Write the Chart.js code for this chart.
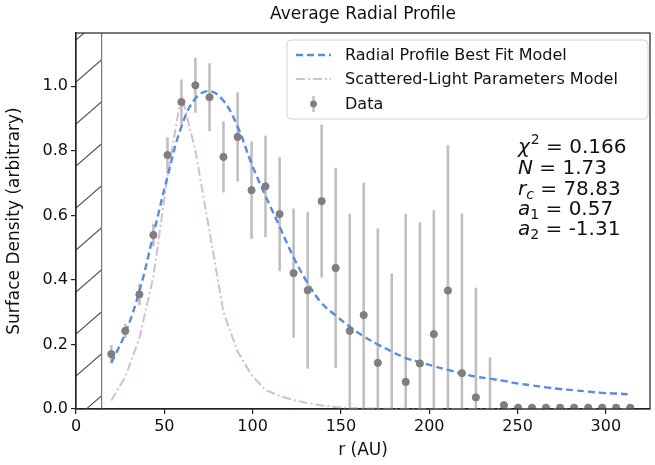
<!DOCTYPE html>
<html>
<head>
<meta charset="utf-8">
<script src="https://cdn.jsdelivr.net/npm/chart.js@4/dist/chart.umd.min.js"></script>
<style>
  html, body { margin: 0; padding: 0; background: #fff; }
  #wrap { width: 655px; height: 465px; }
</style>
</head>
<body>
<div id="wrap"><canvas id="chart" width="655" height="465"></canvas></div>
<script>
// radius grid (AU)
const rValues = [20.0, 27.9, 35.9, 43.8, 51.8, 59.7, 67.6, 75.6, 83.5, 91.5,
  99.4, 107.3, 115.3, 123.2, 131.2, 139.1, 147.0, 155.0, 162.9, 170.9,
  178.8, 186.7, 194.7, 202.6, 210.6, 218.5, 226.4, 234.4, 242.3, 250.3,
  258.2, 266.1, 274.1, 282.0, 290.0, 297.9, 305.8, 313.8];

// measured surface density + 1-sigma errors
const density = [0.170, 0.242, 0.355, 0.539, 0.787, 0.951, 1.003, 0.966, 0.781, 0.843,
  0.678, 0.690, 0.604, 0.421, 0.368, 0.644, 0.437, 0.242, 0.291, 0.143,
  -0.020, 0.084, 0.141, 0.232, 0.367, 0.111, 0.036, -0.010, 0.012, 0.004,
  0.004, 0.004, 0.004, 0.004, 0.004, 0.004, 0.004, 0.004];
const densityErr = [0.028, 0.022, 0.033, 0.035, 0.055, 0.070, 0.085, 0.105, 0.110, 0.138,
  0.151, 0.157, 0.177, 0.200, 0.243, 0.237, 0.310, 0.363, 0.410, 0.416,
  0.440, 0.520, 0.438, 0.384, 0.450, 0.495, 0.340, 0.170, 0.010, 0.003,
  0.003, 0.003, 0.003, 0.003, 0.003, 0.003, 0.003, 0.003];

// model curves on the same grid
const bestFitModel = [0.143, 0.235, 0.365, 0.540, 0.720, 0.875, 0.962, 0.985, 0.955, 0.875,
  0.760, 0.660, 0.565, 0.470, 0.390, 0.328, 0.290, 0.255, 0.225, 0.200,
  0.178, 0.158, 0.145, 0.133, 0.121, 0.110, 0.100, 0.094, 0.087, 0.079,
  0.073, 0.067, 0.062, 0.058, 0.054, 0.050, 0.048, 0.045];
const scatteredModel = [0.026, 0.100, 0.220, 0.410, 0.720, 0.975, 0.800, 0.550, 0.300, 0.178,
  0.105, 0.059, 0.040, 0.028, 0.018, 0.011, 0.006, 0.003, 0.002, 0.001,
  0.001, 0, 0, 0, 0, 0, 0, 0, 0, 0,
  0, 0, 0, 0, 0, 0, 0, 0];

const xTicks = [0, 50, 100, 150, 200, 250, 300];
const yTicks = [0, 0.2, 0.4, 0.6, 0.8, 1.0];
const xRange = [0, 325];
const yRange = [0, 1.165];
const maskedEdge = 14.5;   // inner masked region (hatched)

const legendLabels = ['Radial Profile Best Fit Model', 'Scattered-Light Parameters Model', 'Data'];
const fitParams = [
  { sym: 'χ', sup: '2', val: '0.166' },
  { sym: 'N', val: '1.73' },
  { sym: 'r', sub: 'c', subItalic: true, val: '78.83' },
  { sym: 'a', sub: '1', val: '0.57' },
  { sym: 'a', sub: '2', val: '-1.31' }
];

const FONT = 'DejaVu Sans';
const BLUE = '#5a8be3';
const PINK = '#d6bcd8';
const GRAY = '#7f7f7f';
const BAR = '#bfbfbf';

const toXY = arr => rValues.map((r, i) => ({ x: r, y: arr[i] }));

// hatched inner region + error bars, under the datasets
const underlay = {
  id: 'underlay',
  beforeDatasetsDraw(chart) {
    const { ctx, chartArea: a, scales: { x, y } } = chart;
    ctx.save();
    ctx.beginPath();
    ctx.rect(a.left, a.top, a.right - a.left, a.bottom - a.top);
    ctx.clip();

    const x0 = x.getPixelForValue(0), x1 = x.getPixelForValue(maskedEdge);
    ctx.save();
    ctx.beginPath();
    ctx.rect(x0, a.top, x1 - x0, a.bottom - a.top);
    ctx.clip();
    ctx.strokeStyle = '#555';
    ctx.lineWidth = 1.1;
    const w = x1 - x0;
    for (let yy = a.bottom + 9; yy > a.top - 60; yy -= 42) {
      ctx.beginPath();
      ctx.moveTo(x0, yy);
      ctx.lineTo(x1, yy - w * 0.87);
      ctx.stroke();
    }
    ctx.restore();
    ctx.strokeStyle = '#777';
    ctx.lineWidth = 1.2;
    ctx.beginPath();
    ctx.moveTo(x1, a.top);
    ctx.lineTo(x1, a.bottom);
    ctx.stroke();

    ctx.strokeStyle = BAR;
    ctx.lineWidth = 2.6;
    rValues.forEach((r, i) => {
      const px = x.getPixelForValue(r);
      ctx.beginPath();
      ctx.moveTo(px, y.getPixelForValue(density[i] - densityErr[i]));
      ctx.lineTo(px, y.getPixelForValue(density[i] + densityErr[i]));
      ctx.stroke();
    });
    ctx.restore();
  }
};

// frame, title, legend, parameter text
const overlay = {
  id: 'overlay',
  afterDraw(chart) {
    const { ctx, chartArea: a } = chart;
    ctx.save();
    ctx.strokeStyle = '#222';
    ctx.lineWidth = 1.2;
    ctx.strokeRect(a.left, a.top, a.right - a.left, a.bottom - a.top);

    ctx.fillStyle = '#111';
    ctx.font = `17px ${FONT}`;
    ctx.textAlign = 'center';
    ctx.textBaseline = 'alphabetic';
    ctx.fillText('Average Radial Profile', (a.left + a.right) / 2, 19);

    // legend box
    const bx = 287, by = 40, bw = 361, bh = 79;
    ctx.beginPath();
    ctx.roundRect(bx, by, bw, bh, 4);
    ctx.fillStyle = 'rgba(255,255,255,0.85)';
    ctx.fill();
    ctx.strokeStyle = '#d4d4d4';
    ctx.lineWidth = 1;
    ctx.stroke();

    const rows = [55, 79, 104];
    ctx.lineWidth = 2.4;
    ctx.strokeStyle = BLUE;
    ctx.setLineDash([7, 4]);
    ctx.beginPath(); ctx.moveTo(296, rows[0]); ctx.lineTo(331, rows[0]); ctx.stroke();
    ctx.lineWidth = 2;
    ctx.strokeStyle = PINK;
    ctx.setLineDash([9, 3, 2, 3]);
    ctx.beginPath(); ctx.moveTo(296, rows[1]); ctx.lineTo(331, rows[1]); ctx.stroke();
    ctx.setLineDash([]);
    ctx.strokeStyle = BAR;
    ctx.lineWidth = 2.4;
    ctx.beginPath(); ctx.moveTo(313.5, rows[2] - 8); ctx.lineTo(313.5, rows[2] + 8); ctx.stroke();
    ctx.fillStyle = GRAY;
    ctx.beginPath(); ctx.arc(313.5, rows[2], 3.4, 0, Math.PI * 2); ctx.fill();

    ctx.fillStyle = '#111';
    ctx.font = `16px ${FONT}`;
    ctx.textAlign = 'left';
    ctx.textBaseline = 'middle';
    legendLabels.forEach((t, i) => ctx.fillText(t, 345, rows[i] + 1));

    // fit parameters
    ctx.textBaseline = 'alphabetic';
    const baselines = [153, 174, 195, 215, 235];
    fitParams.forEach((p, i) => {
      let cx = 518;
      const base = baselines[i];
      ctx.font = `italic 20px ${FONT}`;
      ctx.fillText(p.sym, cx, base);
      cx += ctx.measureText(p.sym).width;
      if (p.sup) {
        ctx.font = `14px ${FONT}`;
        ctx.fillText(p.sup, cx + 1, base - 9);
        cx += ctx.measureText(p.sup).width + 1;
      }
      if (p.sub) {
        ctx.font = `${p.subItalic ? 'italic ' : ''}14px ${FONT}`;
        ctx.fillText(p.sub, cx, base + 4);
        cx += ctx.measureText(p.sub).width;
      }
      ctx.font = `20px ${FONT}`;
      ctx.fillText(' = ' + p.val, cx, base);
    });
    ctx.restore();
  }
};

const axisCommon = {
  border: { display: true, color: '#222', width: 1.2 },
  grid: { display: true, drawOnChartArea: false, drawTicks: true, tickLength: 5, color: '#222', lineWidth: 1.2 }
};

new Chart(document.getElementById('chart').getContext('2d'), {
  type: 'scatter',
  data: {
    datasets: [
      {
        label: 'Data',
        data: toXY(density),
        backgroundColor: GRAY,
        borderColor: GRAY,
        pointRadius: 3.6,
        pointHoverRadius: 3.6,
        showLine: false,
        clip: 0
      },
      {
        label: 'Radial Profile Best Fit Model',
        type: 'line',
        data: toXY(bestFitModel),
        borderColor: BLUE,
        borderWidth: 2.4,
        borderDash: [7, 4],
        pointRadius: 0,
        tension: 0.4,
        fill: false
      },
      {
        label: 'Scattered-Light Parameters Model',
        type: 'line',
        data: toXY(scatteredModel),
        borderColor: PINK,
        borderWidth: 2,
        borderDash: [9, 3, 2, 3],
        pointRadius: 0,
        tension: 0,
        fill: false
      }
    ]
  },
  options: {
    responsive: false,
    animation: false,
    events: [],
    layout: { padding: { left: 0, top: 33, right: 5, bottom: 0 } },
    plugins: { legend: { display: false }, title: { display: false }, tooltip: { enabled: false } },
    scales: {
      x: {
        ...axisCommon,
        type: 'linear',
        min: xRange[0],
        max: xRange[1],
        afterFit: s => { s.height = 56; },
        afterBuildTicks: s => { s.ticks = xTicks.map(v => ({ value: v })); },
        ticks: { color: '#111', font: { family: FONT, size: 16 }, padding: 3, maxRotation: 0,
          callback: v => String(v) },
        title: { display: true, text: 'r (AU)', color: '#111', font: { family: FONT, size: 17 },
          padding: { top: 0, bottom: 4 } }
      },
      y: {
        ...axisCommon,
        type: 'linear',
        min: yRange[0],
        max: yRange[1],
        afterFit: s => { s.width = 76; },
        afterBuildTicks: s => { s.ticks = yTicks.map(v => ({ value: v })); },
        ticks: { color: '#111', font: { family: FONT, size: 16 }, padding: 3,
          callback: v => v.toFixed(1) },
        title: { display: true, text: 'Surface Density (arbitrary)', color: '#111',
          font: { family: FONT, size: 17 }, padding: { top: 4, bottom: 0 } }
      }
    }
  },
  plugins: [underlay, overlay]
});
</script>
</body>
</html>
